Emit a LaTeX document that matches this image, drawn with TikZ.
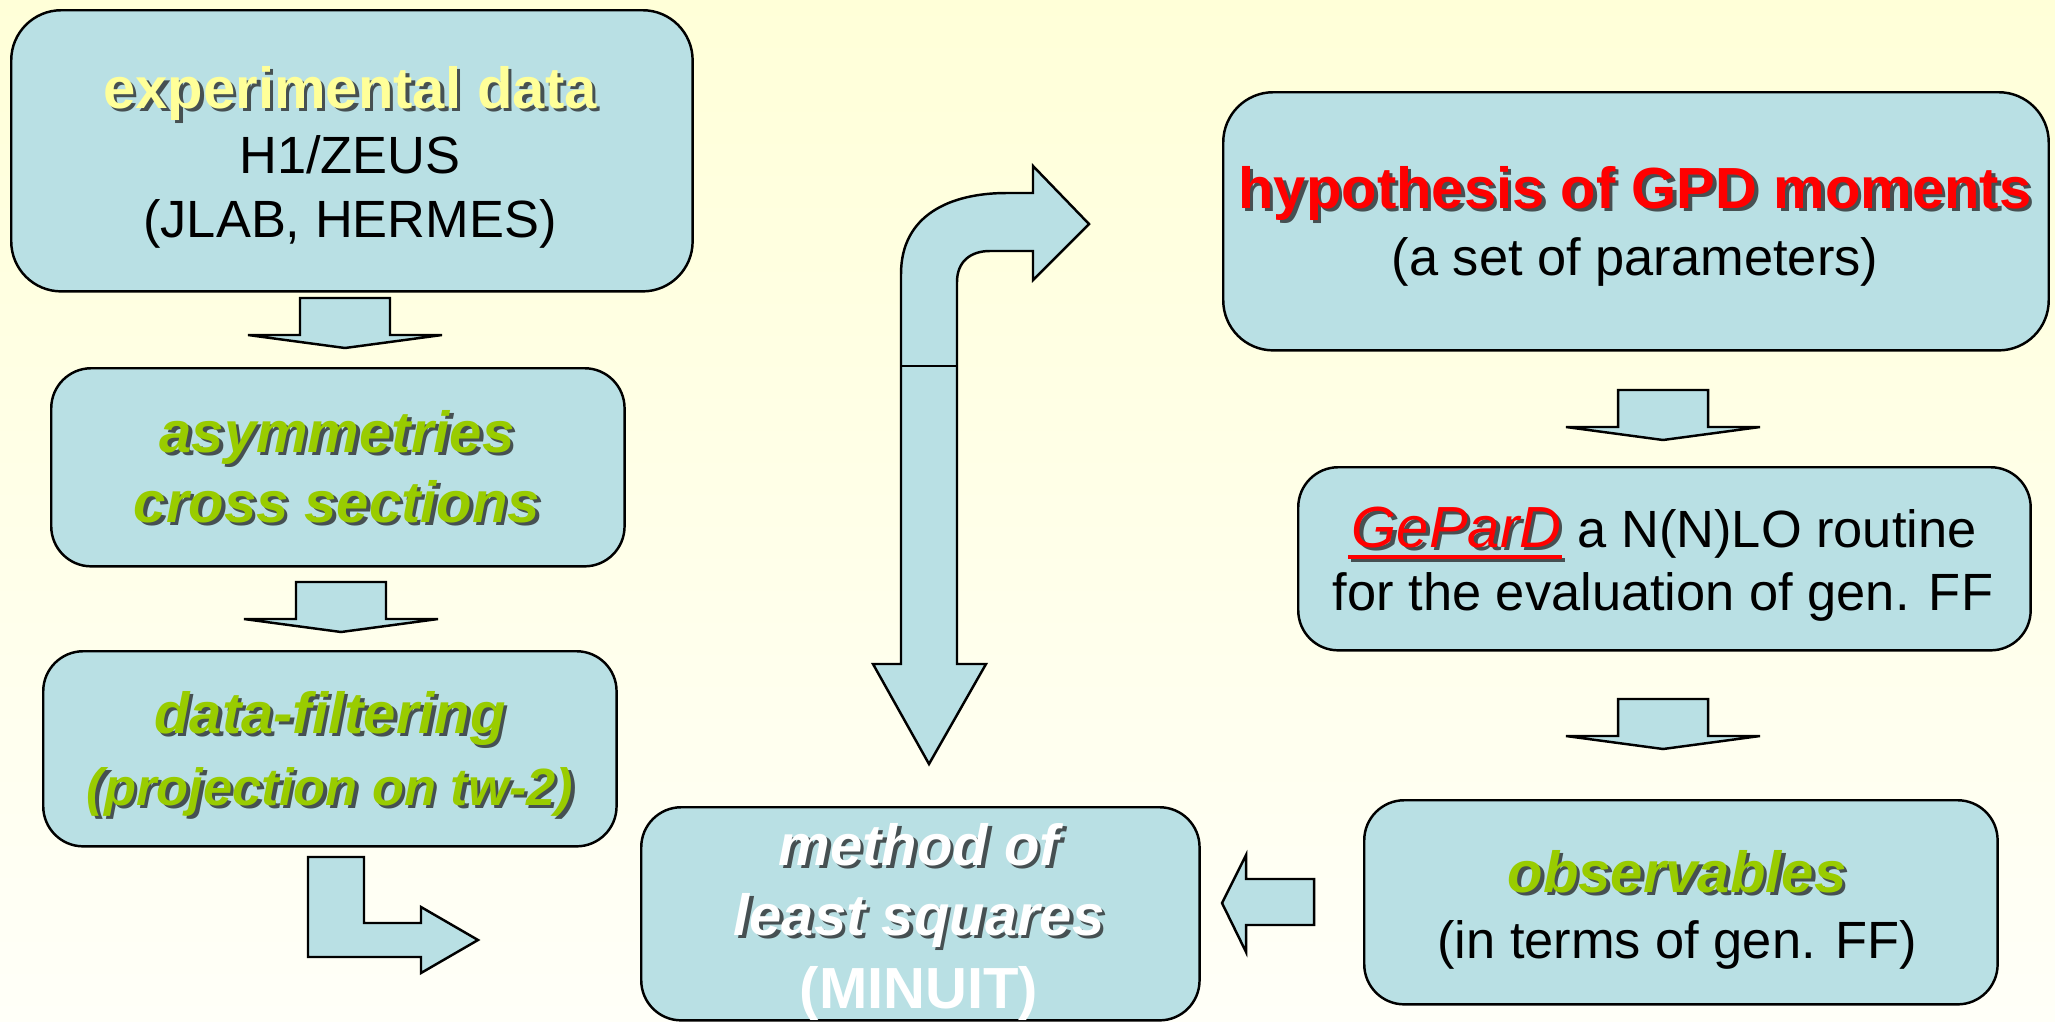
\documentclass[tikz,border=0pt]{standalone}
\usepackage{fontspec}
\setmainfont{Liberation Sans}
\usetikzlibrary{calc}
\definecolor{boxfill}{RGB}{185,224,228}
\definecolor{ygold}{RGB}{255,255,153}
\definecolor{lgreen}{RGB}{153,204,0}
\definecolor{shc}{RGB}{70,80,82}
\definecolor{bgtop}{RGB}{255,255,216}
\definecolor{bgbot}{RGB}{255,255,248}
\newcommand\bigf{\fontsize{16.5}{20}\selectfont}
\newcommand\regf{\fontsize{14.9}{18}\selectfont}
\newcommand\shtxt[2]{\makebox[0pt][l]{\kern0.035cm\raisebox{-0.035cm}{\color{shc}#2}}{\color{#1}#2}}
\tikzset{
  box/.style={draw=black, line width=0.7pt, fill=boxfill, rounded corners=0.4cm, anchor=north west, inner sep=0pt},
  blk/.style={draw=black, line width=0.7pt, fill=boxfill, line join=miter},
  txt/.style={inner sep=0pt, anchor=base, text=black},
  pics/dnblk/.style={code={\draw[blk] (-45,0) -- (45,0) -- (45,37) -- (97,37) -- (0,50) -- (-97,37) -- (-45,37) -- cycle;}}
}
\begin{document}
\begin{tikzpicture}[x=0.01cm,y=-0.01cm]
\shade[top color=bgtop,bottom color=bgbot] (0,0) rectangle (2055,1021);
\useasboundingbox (0,0) rectangle (2055,1021);

% boxes
\node[box, rounded corners=0.5cm, minimum width=6.81cm, minimum height=2.81cm] (b1) at (10,9) {};
\node[box, minimum width=5.73cm, minimum height=1.98cm] (b2) at (50,367) {};
\node[box, minimum width=5.73cm, minimum height=1.95cm] (b3) at (42,650) {};
\node[box, minimum width=5.58cm, minimum height=2.13cm] (bm) at (640,806) {};
\node[box, rounded corners=0.5cm, minimum width=8.25cm, minimum height=2.58cm] (bh) at (1222,91) {};
\node[box, minimum width=7.32cm, minimum height=1.83cm] (bg) at (1297,466) {};
\node[box, minimum width=6.33cm, minimum height=2.04cm] (bo) at (1363,799) {};

% box 1
\node[txt, font=\bigf\bfseries] (t1a) at (350,108) {\shtxt{ygold}{experimental data}};
\node[txt, font=\regf] (t1b) at (350,173) {H1/ZEUS};
\node[txt, font=\regf] (t1c) at (350,237) {(JLAB, HERMES)};
% box 2
\node[txt, font=\bigf\bfseries\itshape] (t2a) at (337,452) {\shtxt{lgreen}{asymmetries}};
\node[txt, font=\bigf\bfseries\itshape] (t2b) at (337,522) {\shtxt{lgreen}{cross sections}};
% box 3
\node[txt, font=\bigf\bfseries\itshape] (t3a) at (330,733) {\shtxt{lgreen}{data-filtering}};
\node[txt, font=\regf\bfseries\itshape] (t3b) at (330,805) {\shtxt{lgreen}{(projection on tw-2)}};
% method box
\node[txt, font=\bigf\bfseries\itshape] (tma) at (919,865) {\shtxt{white}{method of}};
\node[txt, font=\bigf\bfseries\itshape] (tmb) at (919,935) {\shtxt{white}{least squares}};
\node[txt, font=\bigf\bfseries, text=white] (tmc) at (919,1008) {(MINUIT)};
% hypothesis box
\node[txt, font=\bigf\bfseries] (tha) at (1635,208) {\shtxt{red}{hypothesis of GPD moments}};
\node[txt, font=\regf] (thb) at (1635,275) {(a set of parameters)};
% GeParD box
\node[txt, anchor=base east, font=\bigf\itshape] (gep) at (1562,547) {\shtxt{red}{GeParD}};
\node[txt, anchor=base west, font=\regf] (rout) at (1577,547) {a N(N)LO routine};
\draw[shc, line width=0.04cm] ($(gep.base west)+(0,13)$) -- ($(gep.base east)+(3,13)$);
\draw[red, line width=0.04cm] ($(gep.base west)+(-3,10)$) -- ($(gep.base east)+(0,10)$);
\node[txt, font=\regf] (tgb) at (1663,610) {for the evaluation of gen. FF};
% observables box
\node[txt, font=\bigf\bfseries\itshape] (toa) at (1677,892) {\shtxt{lgreen}{observables}};
\node[txt, font=\regf] (tob) at (1677,958) {(in terms of gen. FF)};

% block arrows
\pic (a1) at (345,298) {dnblk};
\pic (a2) at (341,582) {dnblk};
\pic (a3) at (1663,390) {dnblk};
\pic (a4) at (1663,699) {dnblk};
% L-shaped arrow
\draw[blk] (308,857) -- (364,857) -- (364,923) -- (421,923) -- (421,907) -- (478,940) -- (421,973) -- (421,957) -- (308,957) -- cycle;
% left arrow
\draw[blk] (1314,879) -- (1246,879) -- (1246,855) -- (1222,903) -- (1246,952) -- (1246,925) -- (1314,925) -- cycle;
% big bent arrow
\draw[blk] (957,664) -- (986,664) -- (929,764) -- (873,664) -- (901,664) -- (901,274)
  .. controls (901,215) and (950,193) .. (1007,193) -- (1033,193) -- (1033,166) -- (1089,224)
  -- (1033,280) -- (1033,251) -- (990,251) .. controls (970,251) and (957,262) .. (957,282) -- cycle;
\draw[line width=0.7pt] (901,366) -- (957,366);
\end{tikzpicture}
\end{document}
